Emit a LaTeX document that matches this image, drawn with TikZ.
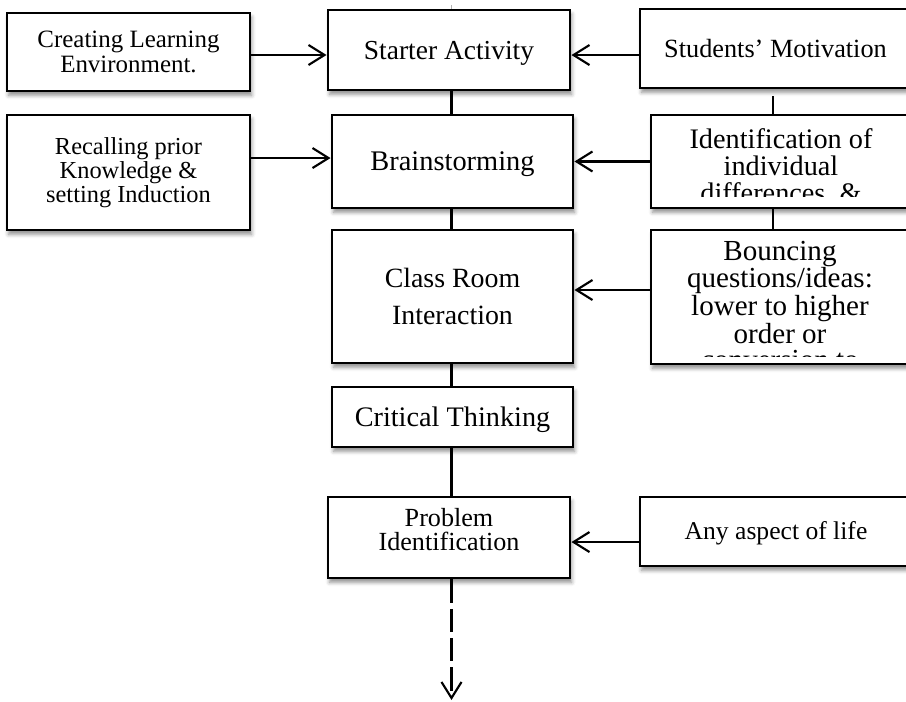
\documentclass[tikz,border=0pt]{standalone}
\usepackage{fontspec}
\setmainfont{Liberation Serif}
\usetikzlibrary{arrows.meta,shadows.blur}
\newcommand\fsz[2]{\fontsize{#1}{#2}\selectfont}
\tikzset{
  card/.style={draw=black, line width=2.2pt, fill=white, align=center, inner sep=2pt,
    blur shadow={shadow xshift=1.2pt, shadow yshift=-3.2pt, shadow blur radius=3pt, shadow opacity=45}},
  % single-line labels: box as tall as a capital letter, so capitals sit centred
  oneline/.style={text height=#1, text depth=0pt},
  link/.style={line width=1.6pt, draw=black},
  feed/.style={link, -{Straight Barb[length=12pt,width=15pt,line width=1.6pt]}},
  onward/.style={feed, dash pattern=on 17.5pt off 4.5pt},
  caption/.style={align=center, inner sep=2pt}
}
\begin{document}
\begin{tikzpicture}[x=0.75pt,y=-0.75pt]
\useasboundingbox (0,0) rectangle (906,702);

% guide positions of the vertical connectors
\coordinate (mid) at (451.5,0);
\coordinate (rmid) at (773,0);
\coordinate (toptick) at (451.5,5);
\coordinate (bottom) at (451.5,700);

% left column
\node[card, minimum width=182.25pt, minimum height=58.5pt, font=\fsz{18.7}{18.75}] (create) at (128.5,52)
  {Creating Learning\\Environment.};
\node[card, minimum width=182.25pt, minimum height=86.25pt, font=\fsz{18.3}{18}] (recall) at (128.5,172.5)
  {Recalling prior\\Knowledge \&\\setting Induction};

% main column
\node[card, oneline=13.6pt, minimum width=181.5pt, minimum height=60pt, font=\fsz{20.6}{22}] (starter) at (449,50)
  {Starter Activity};
\node[card, oneline=14.1pt, minimum width=180.75pt, minimum height=69.75pt, font=\fsz{21.3}{22}] (brain) at (452.5,161.5)
  {Brainstorming};
\node[card, minimum width=180.75pt, minimum height=99.75pt, font=\fsz{20.9}{27.75}] (class) at (452.5,296.5)
  {Class Room\\Interaction};
\node[card, oneline=14pt, minimum width=180.75pt, minimum height=45pt, font=\fsz{21.2}{22}] (critical) at (452.5,417)
  {Critical Thinking};
\node[card, minimum width=181.5pt, minimum height=60.75pt] (problem) at (449,537.5) {};
\node[caption, font=\fsz{19.6}{18}] (problemtext) at (449,529.5) {Problem\\Identification};

% right column
\node[card, oneline=13pt, minimum width=203.25pt, minimum height=59.25pt, font=\fsz{19.7}{20}] (motiv) at (775.5,48.5)
  {Students’ Motivation};
\node[card, minimum width=195pt, minimum height=69.75pt] (ident) at (781,161.5) {};
\node[card, minimum width=195pt, minimum height=100.5pt] (bounce) at (781,297) {};
\node[card, oneline=12.7pt, minimum width=204pt, minimum height=51.75pt, font=\fsz{19.2}{20}] (aspect) at (776,531.5)
  {Any aspect of life};

% texts that overflow their boxes are cut off at the lower edge
\begin{scope}
  \clip (653,117) rectangle (907,197);
  \node[caption, anchor=north, font=\fsz{21.2}{20.25}] (identtext) at (781,126)
    {Identification of\\individual\\differences, \&};
\end{scope}
\begin{scope}
  \clip (653,232) rectangle (907,356);
  \node[caption, anchor=north, font=\fsz{21.8}{19.25}] (bouncetext) at (780,238)
    {Bouncing\\questions/ideas:\\lower to higher\\order or\\conversion to};
\end{scope}

% vertical connectors
\draw[gray!60, line width=0.6pt] (toptick) -- (starter.north -| mid);
\draw[link] (starter.south -| mid) -- (brain.north -| mid);
\draw[link] (brain.south -| mid) -- (class.north -| mid);
\draw[link] (class.south -| mid) -- (critical.north -| mid);
\draw[link] (critical.south -| mid) -- (problem.north -| mid);
\draw[link] ([yshift=-5pt]motiv.south -| rmid) -- (ident.north -| rmid);
\draw[link] (ident.south -| rmid) -- (bounce.north -| rmid);
\draw[onward] (problem.south -| mid) -- (bottom);

% horizontal feeds
\draw[feed] ([yshift=-2.25pt]create.east) -- ([yshift=-2.25pt]create.east -| starter.west);
\draw[feed] ([yshift=-4.9pt]motiv.west) -- ([yshift=-4.9pt]motiv.west -| starter.east);
\draw[feed] ([yshift=2.6pt]brain.west -| recall.east) -- ([yshift=2.6pt]brain.west);
\draw[feed] (ident.west) -- (ident.west -| brain.east);
\draw[feed] ([yshift=5.25pt]bounce.west) -- ([yshift=5.25pt]bounce.west -| class.east);
\draw[feed] ([yshift=-7.9pt]aspect.west) -- ([yshift=-7.9pt]aspect.west -| problem.east);
\end{tikzpicture}
\end{document}
